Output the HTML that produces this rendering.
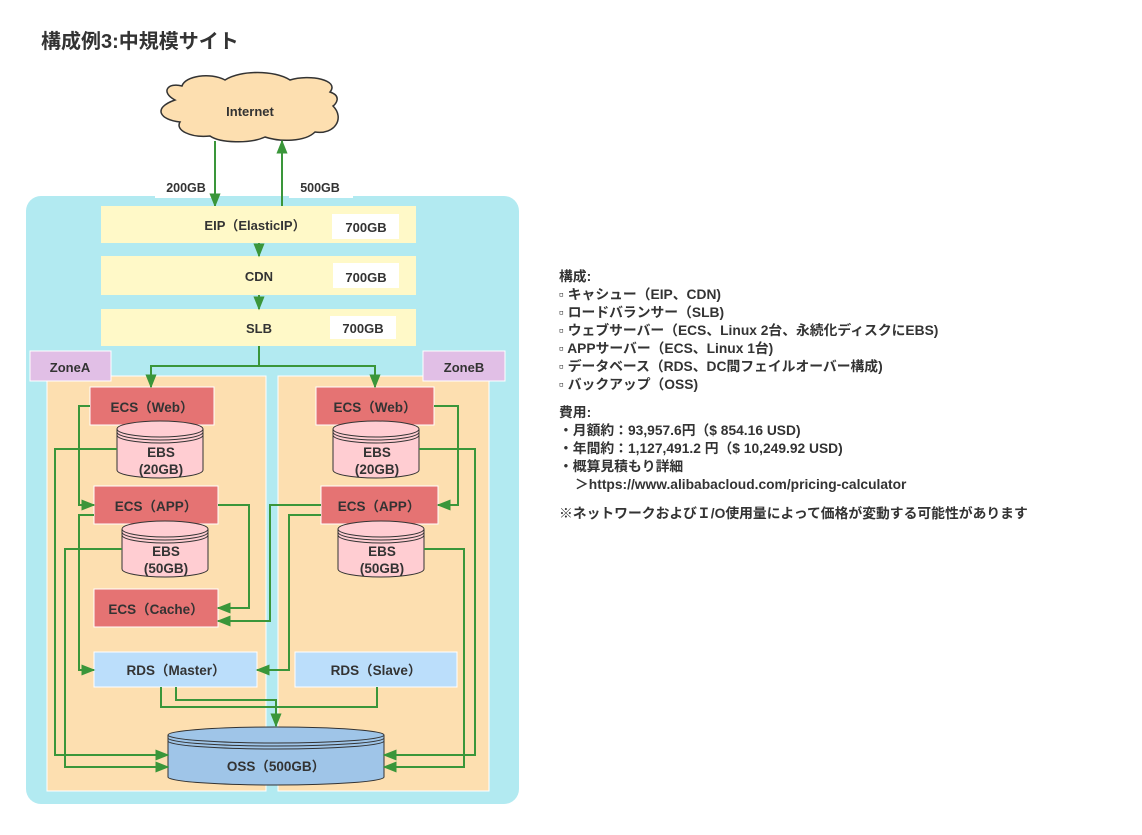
<!DOCTYPE html>
<html><head><meta charset="utf-8"><style>
body{margin:0;background:#fff;width:1142px;height:830px;overflow:hidden}
svg text{font-family:"Liberation Sans","Noto Sans CJK JP",sans-serif;font-weight:bold;fill:#333}
</style></head><body>
<svg width="1142" height="830" viewBox="0 0 1142 830" xmlns="http://www.w3.org/2000/svg">
<defs>
<marker id="b" viewBox="0 0 10 10" refX="9" refY="5" markerWidth="14" markerHeight="14" orient="auto" markerUnits="userSpaceOnUse"><path d="M0,1 L10,5 L0,9z" fill="#3a963a"/></marker>
</defs>
<text x="41" y="48" font-size="20">構成例3:中規模サイト</text>
<path d="M175,100 C160,92 168,82 182,86 C185,76 210,72 225,80 C240,70 275,70 290,80 C310,74 340,80 330,92 C342,96 336,104 333,106 C345,118 335,135 315,132 C305,142 280,142 265,137 C250,144 220,143 210,136 C190,138 175,130 180,122 C160,120 152,108 175,100 Z" fill="#fddfb0" stroke="#333" stroke-width="1.5"/>
<text x="250" y="116" font-size="13" text-anchor="middle">Internet</text>
<rect x="26" y="196" width="493" height="608" rx="15" fill="#b2eaf1"/>
<rect x="155" y="178" width="57" height="20" fill="#fff"/>
<rect x="289" y="178" width="64" height="20" fill="#fff"/>
<text x="186" y="192" font-size="12.5" text-anchor="middle">200GB</text>
<text x="320" y="192" font-size="12.5" text-anchor="middle">500GB</text>
<g stroke="#3a963a" stroke-width="2" fill="none">
<line x1="215" y1="141" x2="215" y2="206" marker-end="url(#b)"/>
<line x1="282" y1="206" x2="282" y2="141" marker-end="url(#b)"/>
</g>
<rect x="101" y="206" width="315" height="37" fill="#fff9c8"/>
<rect x="332" y="214" width="67" height="25" fill="#fff"/>
<text x="255" y="230" font-size="13" text-anchor="middle">EIP（ElasticIP）</text>
<text x="366" y="232" font-size="13" text-anchor="middle">700GB</text>
<rect x="101" y="256" width="315" height="39" fill="#fff9c8"/>
<rect x="333" y="263" width="66" height="25" fill="#fff"/>
<text x="259" y="281" font-size="13" text-anchor="middle">CDN</text>
<text x="366" y="282" font-size="13" text-anchor="middle">700GB</text>
<rect x="101" y="309" width="315" height="37" fill="#fff9c8"/>
<rect x="330" y="316" width="66" height="23" fill="#fff"/>
<text x="259" y="333" font-size="13" text-anchor="middle">SLB</text>
<text x="363" y="333" font-size="13" text-anchor="middle">700GB</text>
<g stroke="#3a963a" stroke-width="2" fill="none">
<line x1="259" y1="243" x2="259" y2="256" marker-end="url(#b)"/>
<line x1="259" y1="295" x2="259" y2="309" marker-end="url(#b)"/>
</g>
<rect x="47" y="376" width="219" height="415" fill="#fddfb0" stroke="#fff" stroke-width="1"/>
<rect x="278" y="376" width="211" height="415" fill="#fddfb0" stroke="#fff" stroke-width="1"/>
<rect x="30" y="351" width="81" height="30" fill="#e1bfe6" stroke="#fff"/>
<rect x="423" y="351" width="82" height="30" fill="#e1bfe6" stroke="#fff"/>
<text x="70" y="372" font-size="13" text-anchor="middle">ZoneA</text>
<text x="464" y="372" font-size="13" text-anchor="middle">ZoneB</text>
<g stroke="#fff" stroke-width="1">
<rect x="90" y="387" width="124" height="38" fill="#e57373"/>
<rect x="94" y="486" width="124" height="38" fill="#e57373"/>
<rect x="94" y="589" width="124" height="38" fill="#e57373"/>
<rect x="316" y="387" width="118" height="38" fill="#e57373"/>
<rect x="321" y="486" width="117" height="38" fill="#e57373"/>
<rect x="94" y="652" width="163" height="35" fill="#bbdefb"/>
<rect x="295" y="652" width="162" height="35" fill="#bbdefb"/>
</g>
<g font-size="13.5" text-anchor="middle">
<text x="152" y="412">ECS（Web）</text>
<text x="156" y="511">ECS（APP）</text>
<text x="156" y="614">ECS（Cache）</text>
<text x="375" y="412">ECS（Web）</text>
<text x="379" y="511">ECS（APP）</text>
<text x="176" y="675">RDS（Master）</text>
<text x="376" y="675">RDS（Slave）</text>
</g>
<g stroke="#333" stroke-width="1" fill="#ffcdd2">
<path d="M117,429 A43,8 0 0 1 203,429 L203,470 A43,8 0 0 1 117,470 Z"/>
<path d="M117,429 A43,8 0 0 0 203,429 M117,432 A43,8 0 0 0 203,432 M117,435 A43,8 0 0 0 203,435" fill="none"/>
<path d="M122,529 A43,8 0 0 1 208,529 L208,569 A43,8 0 0 1 122,569 Z"/>
<path d="M122,529 A43,8 0 0 0 208,529 M122,532 A43,8 0 0 0 208,532 M122,535 A43,8 0 0 0 208,535" fill="none"/>
<path d="M333,429 A43,8 0 0 1 419,429 L419,470 A43,8 0 0 1 333,470 Z"/>
<path d="M333,429 A43,8 0 0 0 419,429 M333,432 A43,8 0 0 0 419,432 M333,435 A43,8 0 0 0 419,435" fill="none"/>
<path d="M338,529 A43,8 0 0 1 424,529 L424,569 A43,8 0 0 1 338,569 Z"/>
<path d="M338,529 A43,8 0 0 0 424,529 M338,532 A43,8 0 0 0 424,532 M338,535 A43,8 0 0 0 424,535" fill="none"/>
</g>
<g font-size="13.5" text-anchor="middle">
<text x="161" y="457">EBS</text><text x="161" y="474">(20GB)</text>
<text x="166" y="556">EBS</text><text x="166" y="573">(50GB)</text>
<text x="377" y="457">EBS</text><text x="377" y="474">(20GB)</text>
<text x="382" y="556">EBS</text><text x="382" y="573">(50GB)</text>
</g>
<g stroke="#333" stroke-width="1" fill="#9fc5e8">
<path d="M168,735 A108,8 0 0 1 384,735 L384,777 A108,8 0 0 1 168,777 Z"/>
<path d="M168,735 A108,8 0 0 0 384,735 M168,738 A108,8 0 0 0 384,738 M168,741 A108,8 0 0 0 384,741" fill="none"/>
</g>
<text x="276" y="771" font-size="13.5" text-anchor="middle">OSS（500GB）</text>
<g stroke="#3a963a" stroke-width="2" fill="none">
<path d="M259,346 V366 H151 V387" marker-end="url(#b)"/>
<path d="M259,366 H375 V387" marker-end="url(#b)"/>
<path d="M90,406 H79 V505 H94" marker-end="url(#b)"/>
<path d="M94,515 H79 V670 H94" marker-end="url(#b)"/>
<path d="M117,449 H55 V755 H168" marker-end="url(#b)"/>
<path d="M122,549 H65 V767 H168" marker-end="url(#b)"/>
<path d="M218,505 H249 V608 H218" marker-end="url(#b)"/>
<path d="M321,505 H270 V621 H218" marker-end="url(#b)"/>
<path d="M434,406 H458 V505 H438" marker-end="url(#b)"/>
<path d="M321,515 H289 V670 H257" marker-end="url(#b)"/>
<path d="M419,449 H475 V755 H384" marker-end="url(#b)"/>
<path d="M424,549 H464 V767 H384" marker-end="url(#b)"/>
<path d="M161,687 V707 H377 V687"/>
<path d="M176,687 V700 H276 V726" marker-end="url(#b)"/>
</g>
<g font-size="13.8">
<text x="559" y="281">構成:</text>
<text x="559" y="299">▫ キャシュー（EIP、CDN)</text>
<text x="559" y="317">▫ ロードバランサー（SLB)</text>
<text x="559" y="335">▫ ウェブサーバー（ECS、Linux 2台、永続化ディスクにEBS)</text>
<text x="559" y="353">▫ APPサーバー（ECS、Linux 1台)</text>
<text x="559" y="371">▫ データベース（RDS、DC間フェイルオーバー構成)</text>
<text x="559" y="389">▫ バックアップ（OSS)</text>
<text x="559" y="417">費用:</text>
<text x="559" y="435">・月額約：93,957.6円（$ 854.16 USD)</text>
<text x="559" y="453">・年間約：1,127,491.2 円（$ 10,249.92 USD)</text>
<text x="559" y="471">・概算見積もり詳細</text>
<text x="575" y="489">＞https://www.alibabacloud.com/pricing-calculator</text>
<text x="559" y="518">※ネットワークおよびＩ/O使用量によって価格が変動する可能性があります</text>
</g>
</svg>
</body></html>
